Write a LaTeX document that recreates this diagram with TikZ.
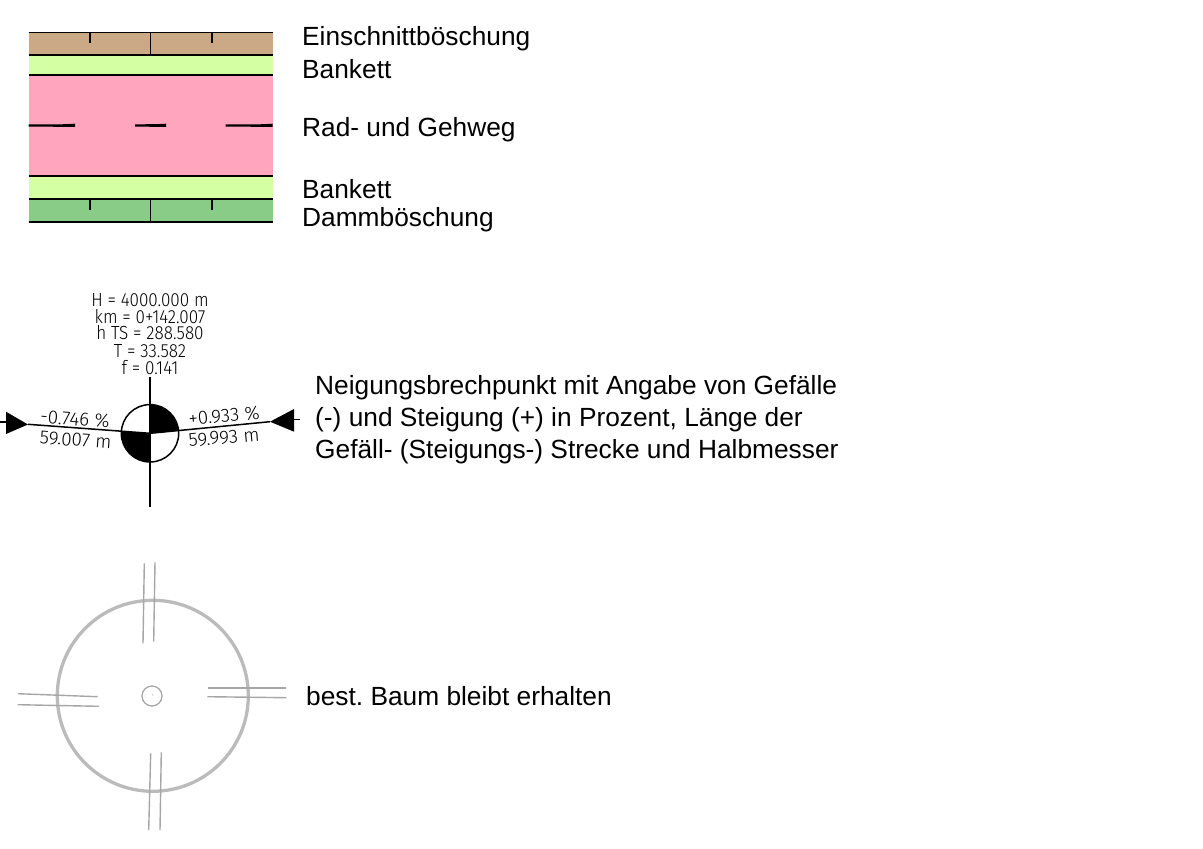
\documentclass[tikz,border=0pt]{standalone}
\usepackage{fontspec}
\setmainfont{Liberation Sans}
\newfontfamily\cadfont{Fira Sans Light}
\definecolor{cbrown}{HTML}{CBA987}
\definecolor{cyellow}{HTML}{D5FFA3}
\definecolor{cpink}{HTML}{FFA6BE}
\definecolor{cgreen}{HTML}{88CC88}
\definecolor{ctree}{HTML}{BBBBBB}
\definecolor{ctick}{HTML}{A6A6A6}
\tikzset{
  legendtext/.style={anchor=base west,inner sep=0pt,font=\frenchspacing\fontsize{26.3}{30}\selectfont},
  cadtext/.style={inner sep=0pt,font=\cadfont\fontsize{19}{19}\selectfont,xscale=0.9},
  cadlabel/.style={inner sep=0pt,font=\cadfont\fontsize{19}{19}\selectfont,xscale=1},
  edge/.style={line width=1.6pt,black},
  thin edge/.style={line width=1.5pt,black},
  treetick/.style={line width=1.4pt,ctick},
}
\begin{document}
\begin{tikzpicture}[x=1pt,y=-1pt]
\useasboundingbox (0,0) rectangle (1203,849);
% road cross section legend
\fill[cbrown] (28.5,32.3) rectangle (272.5,54.7);
\fill[cyellow] (28.5,54.7) rectangle (272.5,75);
\fill[cpink] (28.5,75) rectangle (272.5,175.7);
\fill[cyellow] (28.5,175.7) rectangle (272.5,199);
\fill[cgreen] (28.5,199) rectangle (272.5,222);
\foreach \yy in {32.3,54.7,75,175.7,199,222}
  \draw[edge] (28.5,\yy) -- (272.5,\yy);
\fill[black] (28.5,124.4) -- (62,124.3) -- (75,123.7) -- (75,127) -- (62,126.8) -- (28.5,126.6) -- cycle;
\fill[black] (135,124.3) -- (155,124.2) -- (166,123.7) -- (166,127) -- (155,126.8) -- (135,126.6) -- cycle;
\fill[black] (225.5,124.4) -- (260,124.3) -- (272.5,123.7) -- (272.5,127) -- (260,126.8) -- (225.5,126.6) -- cycle;
\draw[thin edge] (150.7,32.3) -- (150.7,54.7);
\draw[thin edge] (90,32.3) -- (90,43);
\draw[thin edge] (212,32.3) -- (212,43);
\draw[thin edge] (150.7,199) -- (150.7,222);
\draw[thin edge] (90,199) -- (90,210);
\draw[thin edge] (212,199) -- (212,210);
\node[legendtext] (t1) at (302,45.5) {Einschnittböschung};
\node[legendtext] (t2) at (302,78) {Bankett};
\node[legendtext] (t3) at (302,136) {Rad- und Gehweg};
\node[legendtext] (t4) at (302,198) {Bankett};
\node[legendtext] (t5) at (302,226) {Dammböschung};
% gradient change symbol
\fill[black] (150,433.3) -- (150,404.6) arc[start angle=-90,end angle=-5,radius=28.7] -- cycle;
\fill[black] (150,433.3) -- (150,462) arc[start angle=90,end angle=184.3,radius=28.7] -- cycle;
\draw[thin edge] (150,433.3) circle[radius=28.7];
\draw[thin edge] (150,376.7) -- (150,506.7);
\draw[thin edge] (28,424.3) -- (150,433.3) -- (270,421.7);
\fill[black] (28,424.5) -- (6,411.7) -- (6,434) -- cycle;
\fill[black] (270,421.7) -- (294,409) -- (294,431.7) -- cycle;
\draw[thin edge] (0,422) -- (6,422);
\draw[thin edge] (294,419.7) -- (300,419.7);
\node[cadtext] (h1) at (150,300) {H = 4000.000 m};
\node[cadtext] (h2) at (150,316.7) {km = 0+142.007};
\node[cadtext] (h3) at (150,333) {h TS = 288.580};
\node[cadtext] (h4) at (150,350.7) {T = 33.582};
\node[cadtext] (h5) at (150,367.7) {f = 0.141};
\node[cadlabel,rotate=-4.5] (l1) at (75,419) {-0.746 \%};
\node[cadlabel,rotate=-4.5] (l2) at (75.7,440) {59.007 m};
\node[cadlabel,rotate=5] (r1) at (224,415.5) {+0.933 \%};
\node[cadlabel,rotate=5] (r2) at (224,437.5) {59.993 m};
\node[legendtext] (t6) at (315,394) {Neigungsbrechpunkt mit Angabe von Gefälle};
\node[legendtext] (t7) at (315,426) {(-) und Steigung (+) in Prozent, Länge der};
\node[legendtext] (t8) at (315,458) {Gefäll- (Steigungs-) Strecke und Halbmesser};
% tree symbol
\draw[ctree,line width=3.3pt] (152.8,695.8) circle[radius=95.5];
\draw[ctick,line width=1.3pt] (152,696) circle[radius=10];
\fill[ctick] (152.8,695) circle[radius=0.6];
\draw[treetick] (144.3,563.3) -- (143,643.3);
\draw[treetick] (155,562.3) -- (153.7,641.7);
\draw[treetick] (150.7,753.3) -- (148.7,830);
\draw[treetick] (161.3,752.3) -- (160,830);
\draw[treetick] (18,693.7) -- (97.7,696.7);
\draw[treetick] (17.7,704.7) -- (99,706.3);
\draw[treetick] (208.3,688) -- (285.7,688);
\draw[treetick] (207.3,696.7) -- (286.3,697.7);
\node[legendtext] (t9) at (306,705) {best. Baum bleibt erhalten};
\end{tikzpicture}
\end{document}
